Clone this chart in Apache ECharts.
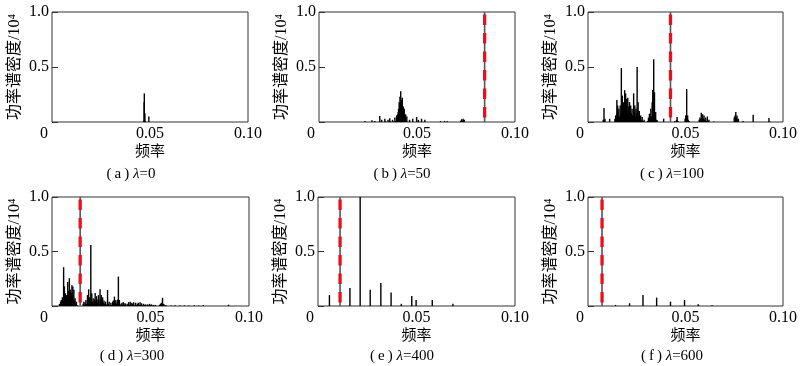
<!DOCTYPE html>
<html>
<head>
<meta charset="utf-8">
<script src="https://cdn.jsdelivr.net/npm/echarts@6/dist/echarts.min.js"></script>
<style>html,body{margin:0;padding:0;background:#fff;}#c{width:800px;height:366px;}</style>
</head>
<body>
<div id="c"></div>
<script>
// ---- data (frequency, power spectral density / 1e4) ----
const specA = [[0.0469,0.01],[0.0470,0.18],[0.0471,0.26],[0.0472,0.02],[0.0474,0.08],[0.0476,0.01],[0.0494,0.05]];

const specB = [[0.0235,0.01],[0.027,0.015],[0.0285,0.01],[0.031,0.055],[0.032,0.02],[0.0336,0.03],[0.034,0.005],[0.0352,0.02],[0.0361,0.035],[0.0365,0.005],[0.0375,0.02],[0.038,0.005],[0.0387,0.04],[0.039,0.01],[0.0396,0.06],[0.0400,0.03],[0.0402,0.07],[0.0404,0.09],[0.0406,0.12],[0.0407,0.05],[0.0409,0.18],[0.0411,0.10],[0.0413,0.23],[0.0415,0.14],[0.0417,0.28],[0.0419,0.15],[0.0421,0.20],[0.0423,0.12],[0.0425,0.22],[0.0427,0.10],[0.0430,0.14],[0.0432,0.06],[0.0435,0.12],[0.0438,0.03],[0.0442,0.07],[0.0445,0.01],[0.0448,0.05],[0.0462,0.02],[0.0478,0.03],[0.0498,0.045],[0.050,0.005],[0.0507,0.02],[0.0523,0.03],[0.054,0.02],[0.062,0.008],[0.064,0.01],[0.0655,0.008],[0.0723,0.01],[0.0726,0.018],[0.0728,0.025],[0.0731,0.012],[0.0735,0.03],[0.0738,0.015],[0.0741,0.02]];

const specC = [[0.0078,0.02],[0.0080,0.01],[0.0082,0.127],[0.0084,0.02],[0.0087,0.03],[0.0111,0.03],[0.0138,0.03],[0.0142,0.06],[0.0145,0.04],[0.0148,0.2],[0.0150,0.08],[0.0152,0.15],[0.0155,0.06],[0.0158,0.12],[0.0161,0.05],[0.0165,0.15],[0.0168,0.08],[0.0171,0.49],[0.0173,0.12],[0.0176,0.24],[0.0178,0.1],[0.0181,0.18],[0.0184,0.07],[0.0188,0.29],[0.0190,0.12],[0.0193,0.26],[0.0195,0.1],[0.0198,0.21],[0.0201,0.08],[0.0204,0.22],[0.0206,0.06],[0.0209,0.14],[0.0211,0.07],[0.0213,0.18],[0.0216,0.05],[0.0219,0.15],[0.0222,0.08],[0.0226,0.12],[0.0229,0.06],[0.0234,0.26],[0.0237,0.09],[0.0240,0.15],[0.0243,0.05],[0.0246,0.12],[0.0249,0.08],[0.0252,0.5],[0.0254,0.1],[0.0257,0.18],[0.0260,0.06],[0.0263,0.1],[0.0266,0.04],[0.0270,0.06],[0.0274,0.02],[0.0278,0.045],[0.0282,0.01],[0.0288,0.02],[0.0305,0.01],[0.031,0.04],[0.0315,0.075],[0.0318,0.03],[0.0322,0.12],[0.0325,0.05],[0.0329,0.18],[0.0332,0.29],[0.0335,0.12],[0.0337,0.57],[0.0339,0.15],[0.0341,0.27],[0.0344,0.08],[0.0347,0.09],[0.035,0.02],[0.0355,0.015],[0.0388,0.03],[0.0445,0.01],[0.0454,0.02],[0.0457,0.045],[0.046,0.01],[0.0498,0.03],[0.0501,0.06],[0.0504,0.04],[0.0506,0.30],[0.0508,0.05],[0.0511,0.06],[0.0514,0.02],[0.0518,0.01],[0.0570,0.02],[0.0574,0.04],[0.0578,0.03],[0.0581,0.085],[0.0584,0.04],[0.0588,0.07],[0.0591,0.03],[0.0595,0.06],[0.0598,0.02],[0.0603,0.04],[0.0607,0.01],[0.0612,0.05],[0.0616,0.01],[0.062,0.02],[0.0645,0.005],[0.075,0.04],[0.0754,0.06],[0.0758,0.09],[0.0761,0.04],[0.0764,0.06],[0.0767,0.02],[0.0771,0.03],[0.0795,0.01],[0.0847,0.067],[0.0928,0.036],[0.0932,0.005]];

const specD = [[0.0038,0.02],[0.0041,0.01],[0.0044,0.04],[0.0047,0.055],[0.0050,0.03],[0.0053,0.08],[0.0056,0.05],[0.0059,0.356],[0.0061,0.12],[0.0063,0.18],[0.0066,0.07],[0.0068,0.117],[0.0071,0.06],[0.0074,0.10],[0.0077,0.05],[0.0080,0.22],[0.0082,0.1],[0.0085,0.14],[0.0088,0.255],[0.0090,0.1],[0.0093,0.15],[0.0096,0.08],[0.0099,0.12],[0.0101,0.19],[0.0103,0.09],[0.0106,0.18],[0.0108,0.07],[0.0111,0.15],[0.0114,0.05],[0.0117,0.07],[0.0120,0.02],[0.0124,0.04],[0.0127,0.01],[0.0158,0.02],[0.0162,0.04],[0.0165,0.01],[0.0168,0.03],[0.0172,0.055],[0.0175,0.02],[0.0180,0.1],[0.0183,0.05],[0.0186,0.153],[0.0189,0.07],[0.0192,0.08],[0.0195,0.04],[0.0197,0.56],[0.0199,0.06],[0.0202,0.117],[0.0205,0.04],[0.0209,0.07],[0.0212,0.03],[0.0216,0.06],[0.0219,0.12],[0.0222,0.04],[0.0226,0.09],[0.0229,0.03],[0.0233,0.06],[0.0236,0.1],[0.0239,0.05],[0.0244,0.153],[0.0247,0.06],[0.0250,0.1],[0.0253,0.04],[0.0257,0.08],[0.0260,0.03],[0.0264,0.05],[0.0268,0.02],[0.0272,0.04],[0.0276,0.015],[0.0282,0.147],[0.0285,0.02],[0.0290,0.04],[0.0294,0.01],[0.0299,0.03],[0.0303,0.01],[0.0308,0.04],[0.0312,0.05],[0.0317,0.086],[0.0320,0.03],[0.0324,0.055],[0.0327,0.02],[0.0331,0.04],[0.0334,0.06],[0.0337,0.27],[0.0339,0.04],[0.0342,0.055],[0.0345,0.01],[0.035,0.02],[0.0355,0.03],[0.0358,0.01],[0.0362,0.035],[0.0366,0.01],[0.037,0.025],[0.0375,0.02],[0.038,0.005],[0.0385,0.02],[0.0389,0.035],[0.0393,0.01],[0.0397,0.04],[0.040,0.015],[0.0405,0.03],[0.041,0.02],[0.0415,0.035],[0.042,0.01],[0.0425,0.03],[0.043,0.01],[0.0434,0.02],[0.0438,0.03],[0.0442,0.01],[0.0447,0.035],[0.045,0.01],[0.0455,0.025],[0.046,0.005],[0.0465,0.02],[0.047,0.01],[0.0475,0.015],[0.048,0.005],[0.0485,0.015],[0.049,0.005],[0.0495,0.02],[0.050,0.01],[0.0505,0.015],[0.051,0.005],[0.0515,0.01],[0.052,0.005],[0.0525,0.01],[0.0545,0.01],[0.055,0.02],[0.0555,0.03],[0.0561,0.075],[0.0564,0.02],[0.0568,0.015],[0.0572,0.005],[0.0578,0.01],[0.0605,0.005],[0.0625,0.006],[0.065,0.005],[0.0672,0.006],[0.0695,0.005],[0.0722,0.008],[0.0745,0.005],[0.0768,0.01],[0.0896,0.012]];

const specE = [[0.0058,0.10],[0.0162,0.165],[0.0214,1.0],[0.0265,0.15],[0.0319,0.21],[0.0371,0.123],[0.0423,0.02],[0.0476,0.092],[0.0498,0.055],[0.0580,0.055],[0.0685,0.02]];

const specF = [[0.0141,0.01],[0.0213,0.025],[0.0282,0.10],[0.0352,0.077],[0.0423,0.04],[0.0495,0.055],[0.0565,0.015],[0.0636,0.006]];

const redFreq = [null, 0.0845, 0.0423, 0.0143, 0.0112, 0.0072];
const panelLetters = ['a', 'b', 'c', 'd', 'e', 'f'];
const lambdaValues = [0, 50, 100, 300, 400, 600];
const yTicks = [0, 0.5, 1.0];
const xTicks = [0, 0.05, 0.10];
const yName = '功率谱密度/10⁴';
const xName = '频率';

// ---- layout ----
const spectra = [specA, specB, specC, specD, specE, specF];
const grids = [
  {left: 52, top: 12, width: 196, height: 110},
  {left: 319, top: 12, width: 196, height: 110},
  {left: 588, top: 12, width: 196, height: 110},
  {left: 52, top: 197, width: 197, height: 109},
  {left: 318, top: 197, width: 197, height: 109},
  {left: 588, top: 197, width: 196, height: 109}
];
const subPos = [[131,174],[402,174],[672,174],[132,356],[402,356],[672,356]];
const FONT = "'Liberation Serif', 'DejaVu Serif', 'Noto Sans CJK SC', serif";
const CJK = "'Liberation Serif', 'Noto Sans CJK SC', serif";
const TS = '\u2009';

const series = [];
spectra.forEach((d, i) => {
  series.push({
    type: 'bar', xAxisIndex: i, yAxisIndex: i, data: d,
    barWidth: 1.4, itemStyle: {color: '#000'}, silent: true, clip: true
  });
  if (redFreq[i] !== null) {
    const vline = [[redFreq[i], yTicks[2]], [redFreq[i], yTicks[0]]];
    series.push({
      type: 'line', xAxisIndex: i, yAxisIndex: i, data: vline,
      showSymbol: false, symbol: 'none', silent: true,
      lineStyle: {color: '#555', width: 1.6, type: 'solid'}
    });
    series.push({
      type: 'line', xAxisIndex: i, yAxisIndex: i, data: vline,
      showSymbol: false, symbol: 'none', silent: true,
      lineStyle: {color: '#e8101c', width: 3.3, type: [10.5, 8], dashOffset: 16}
    });
  }
});

const option = {
  animation: false,
  backgroundColor: '#fff',
  grid: grids.map(g => Object.assign({show: true, borderColor: '#333', borderWidth: 1, backgroundColor: 'transparent'}, g)),
  xAxis: grids.map((g, i) => ({
    type: 'value', gridIndex: i, min: xTicks[0], max: xTicks[2], interval: 0.05,
    axisLine: {show: false}, axisTick: {show: false}, splitLine: {show: false},
    axisLabel: {
      margin: 4, color: '#000', fontFamily: FONT, fontSize: 16,
      formatter: v => Math.abs(v) < 1e-9 ? '{z|0}' : (Math.abs(v - 0.05) < 1e-9 ? '0.05' : '0.10'),
      rich: {z: {fontFamily: FONT, fontSize: 16, color: '#000', padding: [0, 16, 0, 0]}}
    },
    name: xName, nameLocation: 'middle', nameGap: 23,
    nameTextStyle: {fontFamily: CJK, fontSize: 15, color: '#000'}
  })),
  yAxis: grids.map((g, i) => ({
    type: 'value', gridIndex: i, min: yTicks[0], max: yTicks[2], interval: 0.5,
    axisLine: {show: false}, splitLine: {show: false},
    axisTick: {show: true, inside: true, length: 6, lineStyle: {color: '#333'}},
    axisLabel: {
      margin: 3, color: '#000', fontFamily: FONT, fontSize: 16,
      formatter: v => v < 1e-9 ? '' : v.toFixed(1)
    },
    name: yName, nameLocation: 'middle', nameGap: 29,
    nameTextStyle: {fontFamily: CJK, fontSize: 16, color: '#000'}
  })),
  series: series,
  graphic: subPos.map((p, i) => ({
    type: 'text', x: p[0], y: p[1], silent: true,
    style: {
      text: '{n|(' + TS + panelLetters[i] + TS + ')} {i|λ}{n|=' + lambdaValues[i] + '}',
      align: 'center', verticalAlign: 'middle', textAlign: 'center', textVerticalAlign: 'middle',
      fill: '#000', fontSize: 15, fontFamily: FONT,
      rich: {
        n: {fontFamily: FONT, fontSize: 15, fill: '#000', color: '#000'},
        i: {fontFamily: FONT, fontSize: 15, fontStyle: 'italic', fill: '#000', color: '#000'}
      }
    }
  }))
};

const chart = echarts.init(document.getElementById('c'), null, {renderer: 'canvas'});
chart.setOption(option);
</script>
</body>
</html>
